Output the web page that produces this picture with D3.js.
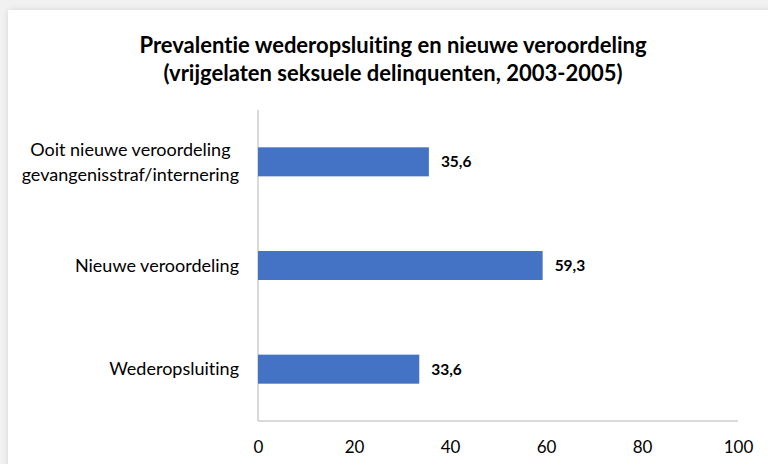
<!DOCTYPE html>
<html>
<head>
<meta charset="utf-8">
<script src="https://cdn.jsdelivr.net/npm/d3@7"></script>
<style>
  body { margin: 0; background: #f1f1f1; overflow: hidden; }
  #card { position: absolute; left: 8px; top: 10px; width: 780px; height: 470px; background: #fff;
          box-shadow: 0 0 6px rgba(0,0,0,0.12); }
  svg { position: absolute; left: 0; top: 0; font-family: Lato, "Open Sans", sans-serif;
        font-variant-ligatures: none; }
</style>
</head>
<body>
<div id="card"></div>
<svg id="chart"></svg>
<script>
const categories = [
  ['Ooit nieuwe veroordeling', 'gevangenisstraf/internering'],
  ['Nieuwe veroordeling'],
  ['Wederopsluiting']
];
const values = [35.6, 59.3, 33.6];
const xTicks = [0, 20, 40, 60, 80, 100];
const titleLines = [
  'Prevalentie wederopsluiting en nieuwe veroordeling',
  '(vrijgelaten seksuele delinquenten, 2003-2005)'
];

const W = 768, H = 464;
const margin = {top: 110, right: 30, bottom: 43, left: 258};
const width = W - margin.left - margin.right,
  height = H - margin.top - margin.bottom;

const svg = d3.select('#chart').attr('width', W).attr('height', H);

// title
svg.append('g').selectAll('text')
  .data(titleLines).enter().append('text')
  .attr('x', 393).attr('y', (d, i) => 45 + i * 28)
  .attr('dy', '0.35em')
  .attr('text-anchor', 'middle')
  .attr('font-size', 22).attr('font-weight', 'bold').attr('fill', '#000')
  .text(d => d);

const plot = svg.append('g').attr('transform', `translate(${margin.left},${margin.top})`);

const x = d3.scaleLinear().domain([0, 100]).range([0, width]);
const y = d3.scaleBand().domain(d3.range(categories.length)).range([0, height])
  .paddingInner(0.72).paddingOuter(0.36);

// axis lines
plot.append('line').attr('x1', 0).attr('x2', 0).attr('y1', 0).attr('y2', height)
  .attr('stroke', '#b4b4b4').attr('stroke-width', 1);
plot.append('line').attr('x1', 0).attr('x2', width).attr('y1', height).attr('y2', height)
  .attr('stroke', '#b4b4b4').attr('stroke-width', 1);

// x tick labels
const xAxis = d3.axisBottom(x).tickValues(xTicks).tickSize(0).tickPadding(20);
const xg = plot.append('g').attr('transform', `translate(0,${height})`).call(xAxis);
xg.select('.domain').remove();
xg.selectAll('text').attr('font-size', 17).attr('fill', '#000').attr('font-family', 'Lato, sans-serif');

// bars
plot.selectAll('rect.bar').data(values).enter().append('rect')
  .attr('class', 'bar')
  .attr('x', 0)
  .attr('y', (d, i) => y(i))
  .attr('width', d => x(d))
  .attr('height', y.bandwidth())
  .attr('fill', '#4472c4');

// value labels
plot.selectAll('text.val').data(values).enter().append('text')
  .attr('class', 'val')
  .attr('x', d => x(d) + 12)
  .attr('y', (d, i) => y(i) + y.bandwidth() / 2)
  .attr('dy', '0.35em')
  .attr('font-size', 15.5).attr('font-weight', 'bold').attr('fill', '#000')
  .text(d => String(d).replace('.', ','));

// category labels (multi-line centred block, right edge at axis - 19)
categories.forEach((lines, i) => {
  const cy = y(i) + y.bandwidth() / 2;
  const g = plot.append('g');
  const t = g.selectAll('text').data(lines).enter().append('text')
    .attr('y', (d, j) => cy + (j - (lines.length - 1) / 2) * 25)
    .attr('dy', '0.35em')
    .attr('text-anchor', 'middle')
    .attr('font-size', 18).attr('fill', '#000')
    .text(d => d);
  const maxW = d3.max(t.nodes(), n => n.getComputedTextLength());
  t.attr('x', -19 - maxW / 2);
});
</script>
</body>
</html>
